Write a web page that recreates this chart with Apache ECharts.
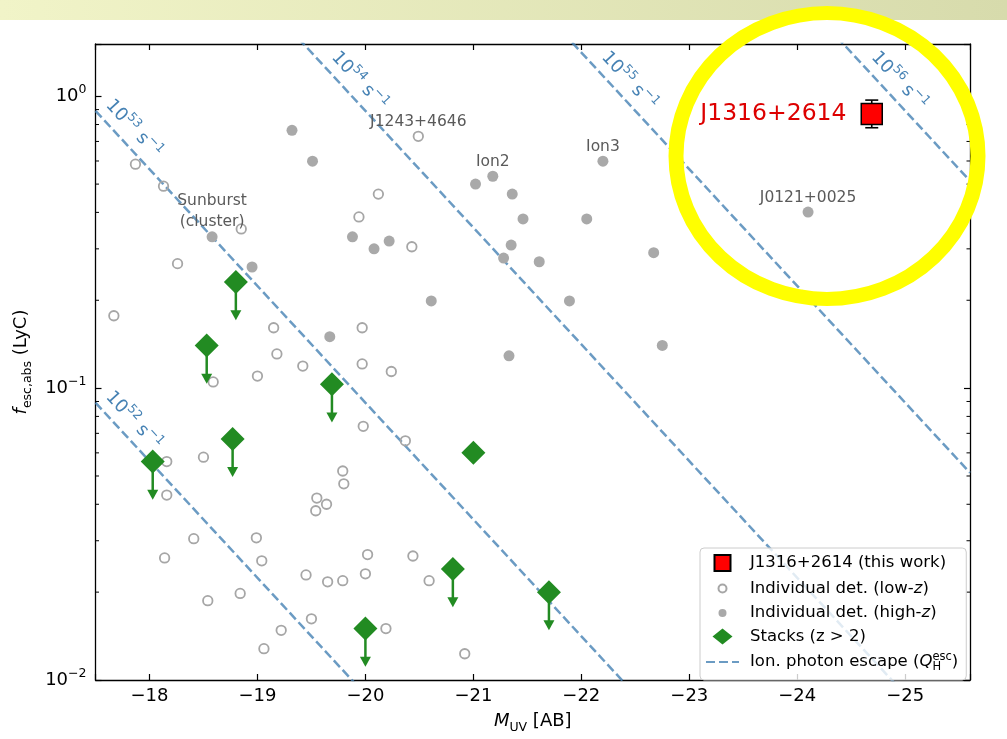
<!DOCTYPE html>
<html>
<head>
<meta charset="utf-8">
<script src="https://cdn.jsdelivr.net/npm/echarts@6/dist/echarts.min.js"></script>
<style>
  html, body { margin: 0; padding: 0; background: #ffffff; }
  #chart { width: 1007px; height: 739px; }
</style>
</head>
<body>
<div id="chart"></div>
<script>
const FONT = 'DejaVu Sans';

// Individual LyC detections at high redshift: [M_UV, f_esc]
const highZ = [
  [-19.32, 0.764], [-19.51, 0.599], [-19.88, 0.330], [-20.08, 0.300], [-20.22, 0.319],
  [-21.02, 0.500], [-21.18, 0.532], [-21.36, 0.462], [-21.46, 0.380], [-21.35, 0.309],
  [-21.28, 0.279], [-21.61, 0.271], [-22.20, 0.599], [-22.05, 0.380], [-22.67, 0.291],
  [-20.61, 0.199], [-21.89, 0.199], [-19.67, 0.150], [-21.33, 0.129], [-22.75, 0.140],
  [-24.10, 0.401], [-18.58, 0.330], [-18.95, 0.260]
];

// Individual LyC detections at low redshift: [M_UV, f_esc]
const lowZ = [
  [-20.49, 0.729], [-20.12, 0.462], [-19.94, 0.386], [-20.43, 0.305], [-19.97, 0.161],
  [-19.97, 0.121], [-20.24, 0.114], [-19.42, 0.119], [-17.87, 0.585], [-18.13, 0.492],
  [-18.85, 0.351], [-18.26, 0.267], [-17.67, 0.177], [-19.15, 0.161], [-19.18, 0.131],
  [-19.00, 0.110], [-18.59, 0.105], [-19.98, 0.074], [-20.37, 0.066], [-18.50, 0.058],
  [-18.16, 0.056], [-18.16, 0.043], [-19.79, 0.052], [-19.80, 0.047], [-19.55, 0.042],
  [-19.64, 0.040], [-19.54, 0.038], [-18.41, 0.0305], [-18.99, 0.0307], [-18.14, 0.0262],
  [-19.04, 0.0256], [-20.02, 0.0269], [-20.44, 0.0266], [-19.45, 0.0229], [-19.65, 0.0217],
  [-19.79, 0.0219], [-20.00, 0.0231], [-20.59, 0.0219], [-18.54, 0.0187], [-18.84, 0.0198],
  [-19.50, 0.0162], [-19.22, 0.0148], [-20.19, 0.0150], [-19.06, 0.0128], [-20.92, 0.0123]
];

// Stacked measurements (z > 2); 1 = upper limit
const stackM = [-18.80, -18.53, -19.69, -18.77, -18.03, -21.00, -20.81, -21.70, -20.00];
const stackF = [0.231, 0.140, 0.103, 0.067, 0.056, 0.060, 0.024, 0.020, 0.015];
const stackIsLimit = [1, 1, 1, 1, 1, 0, 1, 1, 1];
const LIMIT_ARROW_FRAC = 0.26;   // upper-limit arrow length as a fraction of the value

// This work
const targetName = 'J1316+2614';
const targetM = -24.69;
const targetF = 0.87;
const targetErrUp = 0.10;
const targetErrLo = 0.09;

// Named objects
const namedSources = [
  ['J1243+4646', -20.49, 0.729],
  ['Ion2', -21.18, 0.532],
  ['Ion3', -22.20, 0.599],
  ['J0121+0025', -24.10, 0.401],
  ['Sunburst\n(cluster)', -18.58, 0.330]
];

// Escaping ionizing photon rate: log f = log Q + 0.4 M_UV + ZP
const ionLogQ = [52, 53, 54, 55, 56];
const ionLabelM = [-17.85, -17.85, -19.94, -22.44, -24.94];
const ION_ZP = -46.05;
const ION_LABEL_DEX = 0.078;

// Axis ranges and ticks
const X_MIN = -25.6, X_MAX = -17.5;
const Y_MIN = 0.01, Y_MAX = 1.51;
const yMinorTicks = [];
for (let d = -2; d <= 0; d++) {
  for (let k = 2; k <= 9; k++) {
    const v = k * Math.pow(10, d);
    if (v > Y_MIN && v < Y_MAX) yMinorTicks.push(v);
  }
}

const GREEN = '#228b22';
const LINE_BLUE = 'rgba(70,130,180,0.8)';
const TEXT_BLUE = '#4682b4';
const GRAY_TEXT = '#5a5a5a';

const ionF = (logQ, m) => Math.pow(10, logQ + 0.4 * m + ION_ZP);
const minus = s => String(s).replace('-', '\u2212');

const fmtX = v => {
  const r = Math.round(v);
  if (Math.abs(v - r) > 1e-6) return '';
  return minus(r);
};
const fmtY = v => {
  const e = Math.log10(v);
  const r = Math.round(e);
  if (Math.abs(e - r) > 1e-6) return '';
  return '{b|10}{s|' + minus(r) + '}';
};

const axisLineStyle = { color: '#000', width: 1.3 };
const tickStyle = { inside: true, length: 6, lineStyle: { color: '#000', width: 1.2 } };

function xAxisCfg(pos, showLabel) {
  return {
    type: 'value', position: pos, min: X_MIN, max: X_MAX, inverse: true, splitNumber: 8,
    axisLine: { show: true, onZero: false, lineStyle: axisLineStyle },
    axisTick: tickStyle,
    splitLine: { show: false },
    axisLabel: { show: showLabel, formatter: fmtX, fontFamily: FONT, fontSize: 18, color: '#000', margin: 7 },
    name: showLabel ? '{i|M}{sub|UV}{n| [AB]}' : '',
    nameLocation: 'middle', nameGap: 28,
    nameTextStyle: {
      fontFamily: FONT, fontSize: 18, color: '#000',
      rich: {
        i: { fontFamily: FONT, fontSize: 18, fontStyle: 'italic', lineHeight: 26, color: '#000' },
        sub: { fontFamily: FONT, fontSize: 12.5, lineHeight: 12, verticalAlign: 'bottom', color: '#000' },
        n: { fontFamily: FONT, fontSize: 18, lineHeight: 26, color: '#000' }
      }
    }
  };
}
function yAxisCfg(pos, showLabel) {
  return {
    type: 'log', logBase: 10, position: pos, min: Y_MIN, max: Y_MAX,
    axisLine: { show: true, onZero: false, lineStyle: axisLineStyle },
    axisTick: tickStyle,
    splitLine: { show: false },
    minorTick: { show: false },
    axisLabel: {
      show: showLabel, formatter: fmtY, margin: 9,
      rich: {
        b: { fontFamily: FONT, fontSize: 18, lineHeight: 26, color: '#000' },
        s: { fontFamily: FONT, fontSize: 12.5, lineHeight: 12, verticalAlign: 'top', color: '#000' }
      }
    },
    name: showLabel ? '{i|f}{sub|esc,abs}{n| (LyC)}' : '',
    nameLocation: 'middle', nameGap: 56, nameRotate: 90,
    nameTextStyle: {
      fontFamily: FONT, fontSize: 18, color: '#000',
      rich: {
        i: { fontFamily: FONT, fontSize: 18, fontStyle: 'italic', lineHeight: 26, color: '#000' },
        sub: { fontFamily: FONT, fontSize: 12.5, lineHeight: 12, verticalAlign: 'bottom', color: '#000' },
        n: { fontFamily: FONT, fontSize: 18, lineHeight: 26, color: '#000' }
      }
    }
  };
}

const NAME_TARGET = 'J1316+2614 (this work)';
const NAME_LOW = 'Individual det. (low-z)';
const NAME_HIGH = 'Individual det. (high-z)';
const NAME_STACK = 'Stacks (z > 2)';
const NAME_ION = 'Ion. photon escape';

const legendText = {};
legendText[NAME_TARGET] = 'J1316+2614 (this work)';
legendText[NAME_LOW] = 'Individual det. (low-{i|z})';
legendText[NAME_HIGH] = 'Individual det. (high-{i|z})';
legendText[NAME_STACK] = 'Stacks (z > 2)';
legendText[NAME_ION] = 'Ion. photon escape ({qi|Q}{qsub|H}{qsup|esc})';

const series = [];

// Dashed lines of constant escaping ionizing photon rate
ionLogQ.forEach(q => {
  series.push({
    type: 'line', name: NAME_ION, silent: true, z: 1,
    symbol: 'none', clip: true,
    itemStyle: { color: LINE_BLUE },
    lineStyle: { color: LINE_BLUE, width: 2.5, type: [9, 4] },
    data: [[X_MAX, ionF(q, X_MAX)], [X_MIN, ionF(q, X_MIN)]]
  });
});

// Line annotations
series.push({
  type: 'scatter', name: 'ion-labels', silent: true, z: 2,
  symbolSize: 0,
  itemStyle: { opacity: 1 },
  data: ionLogQ.map((q, i) => [ionLabelM[i], ionF(q, ionLabelM[i]) * Math.pow(10, ION_LABEL_DEX), q]),
  label: {
    show: true, position: 'inside', rotate: -47.4,
    formatter: p => '{b|10}{s|' + p.value[2] + '}{b| s}{s|\u22121}',
    rich: {
      b: { fontFamily: FONT, fontSize: 18, lineHeight: 26, color: TEXT_BLUE },
      s: { fontFamily: FONT, fontSize: 12.5, lineHeight: 12, verticalAlign: 'top', color: TEXT_BLUE }
    }
  }
});

// Minor ticks of the logarithmic axis (left and right frame)
series.push({
  type: 'custom', name: 'y-minor', silent: true, z: 1,
  data: yMinorTicks.map(v => [-20, v]),
  renderItem: (params, api) => {
    const cs = params.coordSys;
    const y = api.coord([api.value(0), api.value(1)])[1];
    const L = 3.5;
    return {
      type: 'group', children: [
        { type: 'line', shape: { x1: cs.x, y1: y, x2: cs.x + L, y2: y }, style: { stroke: '#000', lineWidth: 1 } },
        { type: 'line', shape: { x1: cs.x + cs.width - L, y1: y, x2: cs.x + cs.width, y2: y }, style: { stroke: '#000', lineWidth: 1 } }
      ]
    };
  }
});

series.push({
  type: 'scatter', name: NAME_LOW, z: 3,
  symbol: 'circle', symbolSize: 9.5,
  itemStyle: { color: 'rgba(255,255,255,0)', borderColor: '#a6a6a6', borderWidth: 1.8, opacity: 1 },
  data: lowZ
});

series.push({
  type: 'scatter', name: NAME_HIGH, z: 3,
  symbol: 'circle', symbolSize: 11,
  itemStyle: { color: '#a9a9a9', opacity: 1 },
  data: highZ
});

// Upper-limit arrows on stacks
series.push({
  type: 'custom', name: 'stack-limits', silent: true, z: 4,
  data: stackM.map((m, i) => [m, stackF[i], stackIsLimit[i]]).filter(d => d[2] === 1),
  renderItem: (params, api) => {
    const m = api.value(0), f = api.value(1);
    const p0 = api.coord([m, f]);
    const p1 = api.coord([m, f * (1 - LIMIT_ARROW_FRAC)]);
    const head = 10, hw = 5.5;
    return {
      type: 'group', children: [
        { type: 'line', shape: { x1: p0[0], y1: p0[1], x2: p1[0], y2: p1[1] - head + 1 }, style: { stroke: GREEN, lineWidth: 2.5 } },
        { type: 'polygon', shape: { points: [[p1[0] - hw, p1[1] - head], [p1[0] + hw, p1[1] - head], [p1[0], p1[1]]] }, style: { fill: GREEN } }
      ]
    };
  }
});

series.push({
  type: 'scatter', name: NAME_STACK, z: 5,
  symbol: 'diamond', symbolSize: 24,
  itemStyle: { color: GREEN, opacity: 1 },
  data: stackM.map((m, i) => [m, stackF[i]])
});

// Labels of named objects
series.push({
  type: 'scatter', name: 'named', silent: true, z: 6,
  symbolSize: 0,
  itemStyle: { opacity: 1 },
  data: namedSources.map(s => ({ value: [s[1], s[2]], name: s[0] })),
  label: {
    show: true, position: 'top', distance: 4, align: 'center',
    formatter: p => p.name,
    fontFamily: FONT, fontSize: 15.5, lineHeight: 21, color: GRAY_TEXT
  }
});

// Error bar of this work
series.push({
  type: 'custom', name: 'target-err', silent: true, z: 7,
  data: [[targetM, targetF, targetErrUp, targetErrLo]],
  renderItem: (params, api) => {
    const m = api.value(0), f = api.value(1);
    const pt = api.coord([m, f + api.value(2)]);
    const pb = api.coord([m, f - api.value(3)]);
    const cap = 6.5;
    const st = { stroke: '#000', lineWidth: 1.6 };
    return {
      type: 'group', children: [
        { type: 'line', shape: { x1: pt[0], y1: pt[1], x2: pb[0], y2: pb[1] }, style: st },
        { type: 'line', shape: { x1: pt[0] - cap, y1: pt[1], x2: pt[0] + cap, y2: pt[1] }, style: st },
        { type: 'line', shape: { x1: pb[0] - cap, y1: pb[1], x2: pb[0] + cap, y2: pb[1] }, style: st }
      ]
    };
  }
});

series.push({
  type: 'scatter', name: NAME_TARGET, z: 8,
  symbol: 'rect', symbolSize: 21,
  itemStyle: { color: '#ff0000', borderColor: '#000', borderWidth: 1.5, opacity: 1 },
  data: [[targetM, targetF]],
  label: {
    show: true, position: 'left', distance: 14,
    formatter: targetName,
    fontFamily: FONT, fontSize: 23.5, color: '#dd0000'
  }
});

const option = {
  animation: false,
  backgroundColor: '#ffffff',
  textStyle: { fontFamily: FONT },
  grid: { left: 95.5, right: 37, top: 44, bottom: 56, containLabel: false },
  xAxis: [xAxisCfg('bottom', true), xAxisCfg('top', false)],
  yAxis: [yAxisCfg('left', true), yAxisCfg('right', false)],
  legend: {
    orient: 'vertical', left: 700, top: 548,
    itemWidth: 33, itemHeight: 18, itemGap: 5.5,
    padding: [5, 8, 7, 5],
    backgroundColor: 'rgba(255,255,255,0.8)',
    borderColor: '#cccccc', borderWidth: 1, borderRadius: 4,
    selectedMode: false,
    formatter: name => legendText[name],
    textStyle: {
      fontFamily: FONT, fontSize: 16.5, color: '#000', padding: [0, 0, 0, 6],
      rich: {
        i: { fontFamily: FONT, fontSize: 16.5, fontStyle: 'italic', color: '#000' },
        qi: { fontFamily: FONT, fontSize: 16.5, fontStyle: 'italic', color: '#000', lineHeight: 22 },
        qsub: { fontFamily: FONT, fontSize: 11.5, color: '#000', lineHeight: 11, verticalAlign: 'bottom', width: 0 },
        qsup: { fontFamily: FONT, fontSize: 11.5, color: '#000', lineHeight: 11, verticalAlign: 'top' }
      }
    },
    data: [
      { name: NAME_TARGET, icon: 'path://M-1,-1M17,17M0,0L16,0L16,16L0,16Z' },
      { name: NAME_LOW, icon: 'path://M-9,-9M9,9M4,0A4,4,0,1,1,-4,0A4,4,0,1,1,4,0Z' },
      { name: NAME_HIGH, icon: 'path://M-9,-9M9,9M4,0A4,4,0,1,1,-4,0A4,4,0,1,1,4,0Z' },
      { name: NAME_STACK, icon: 'path://M-10,-9M10,9M0,-8L10,0L0,8L-10,0Z' },
      { name: NAME_ION, itemStyle: { color: 'rgba(0,0,0,0)', borderWidth: 0 } }
    ]
  },
  graphic: [
    {
      type: 'rect', z: 100, silent: true,
      shape: { x: 0, y: 0, width: 1007, height: 20 },
      style: {
        fill: new echarts.graphic.LinearGradient(0, 0, 1, 0, [
          { offset: 0, color: '#f1f4c8' },
          { offset: 1, color: '#d7dbac' }
        ])
      }
    },
    {
      type: 'circle', z: 100, silent: true,
      x: 827, y: 156, scaleY: 143 / 151,
      shape: { cx: 0, cy: 0, r: 151 },
      style: { fill: 'none', stroke: '#ffff00', lineWidth: 15, strokeNoScale: true }
    }
  ],
  series: series
};

const chart = echarts.init(document.getElementById('chart'), null, { renderer: 'canvas' });
chart.setOption(option);
</script>
</body>
</html>
